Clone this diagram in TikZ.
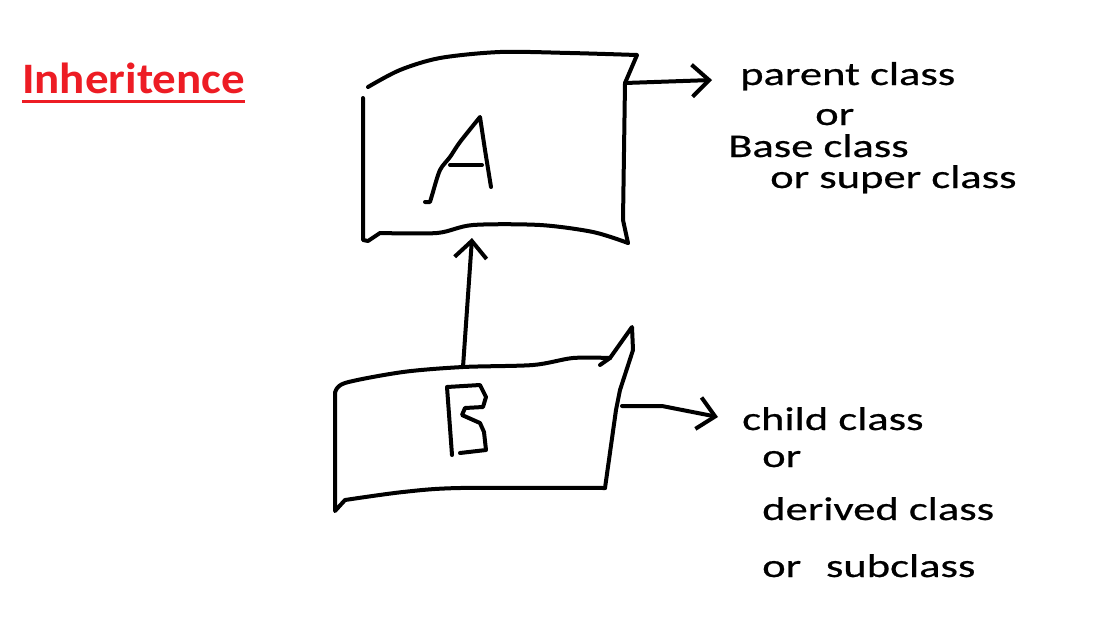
\documentclass[tikz,border=0pt]{standalone}
\usepackage{fontspec}
\setmainfont{Carlito}
\newfontfamily\lblfont[FakeStretch=1.35, FakeBold=0.6]{Carlito}
\newfontfamily\ttlfont[FakeStretch=1.08]{Carlito}
\usetikzlibrary{arrows.meta}
\definecolor{ttlred}{RGB}{237,28,36}

\tikzset{
  sketch/.style={line width=4pt, line cap=round, line join=round},
  pointer/.style={sketch, -{Straight Barb[length=17pt, width=32pt]}},
  lbl/.style={anchor=base west, inner sep=0pt, font=\lblfont\fontsize{33}{40}\selectfont},
}

\begin{document}
\begin{tikzpicture}[x=1pt, y=-1pt]
  \useasboundingbox (0,0) rectangle (1100,622);

  % title
  \node[anchor=base west, inner sep=0pt, text=ttlred,
        font=\ttlfont\bfseries\fontsize{43.5}{50}\selectfont] (ttl) at (22,93) {Inheritence};
  \draw[ttlred, line width=3.5pt] ([yshift=-8.5pt]ttl.base west) -- ([yshift=-8.5pt]ttl.base east);

  % box A
  \draw[sketch] plot[smooth] coordinates {(368,87) (400,70) (440,58) (500,52) (570,53) (637,55)}
    -- (625,83) -- (623,220) -- (628,243);
  \draw[sketch] (363,98) -- (363,240) -- (368,241)
    -- plot[smooth] coordinates {(380,233) (437,233) (473,225) (540,225) (593,232) (628,243)};
  \draw[sketch] (425,202) -- (430,202)
    -- plot[smooth] coordinates {(433,192) (440,170) (450,157) (460,142) (480,117)}
    -- (485,150) -- (491,187);
  \draw[sketch] (450,165) -- (482,165);

  % box B
  \draw[sketch] plot[smooth] coordinates {(335,393) (345,383) (403,372) (463,367) (533,365) (573,358) (610,358)};
  \draw[sketch] (600,365) -- (610,358) -- (632,327) -- (633,350) -- (620,390) -- (616,410) -- (605,488);
  \draw[sketch] (335,393) -- (335,511)
    -- plot[smooth] coordinates {(345,500) (403,492) (460,488) (605,488)};
  \draw[sketch] (452,455) -- (447,387) -- (480,385) -- (486,397) -- (483,407)
    -- (465,408) -- (462,415) -- (480,423) -- (484,432) -- (486,450) -- (460,453);

  % anchors of the connectors
  \coordinate (atop) at (472,238);
  \coordinate (bfoot) at (463,367);
  \coordinate (aout) at (625,83);
  \coordinate (atip) at (712,80);
  \coordinate (bout) at (622,406);
  \coordinate (bbend) at (662,406);
  \coordinate (btip) at (718,417);

  % labels
  \node[lbl] (parent) at (740,85) {parent class};
  \node[lbl] (or1) at (815,125) {or};
  \node[lbl] (base) at (728,157) {Base class};
  \node[lbl] (super) at (770,188) {or super class};

  \node[lbl] (child) at (742,430) {child class};
  \node[lbl] (or2) at (762,467) {or};
  \node[lbl] (derived) at (762,520) {derived class};
  \node[lbl] (sub) at (762,577) {or\hspace{0.75em}subclass};

  % connectors
  \draw[pointer] (bfoot) -- (atop);
  \draw[pointer] (aout) -- (atip);
  \draw[pointer] (bout) -- (bbend) -- (btip);
\end{tikzpicture}
\end{document}
